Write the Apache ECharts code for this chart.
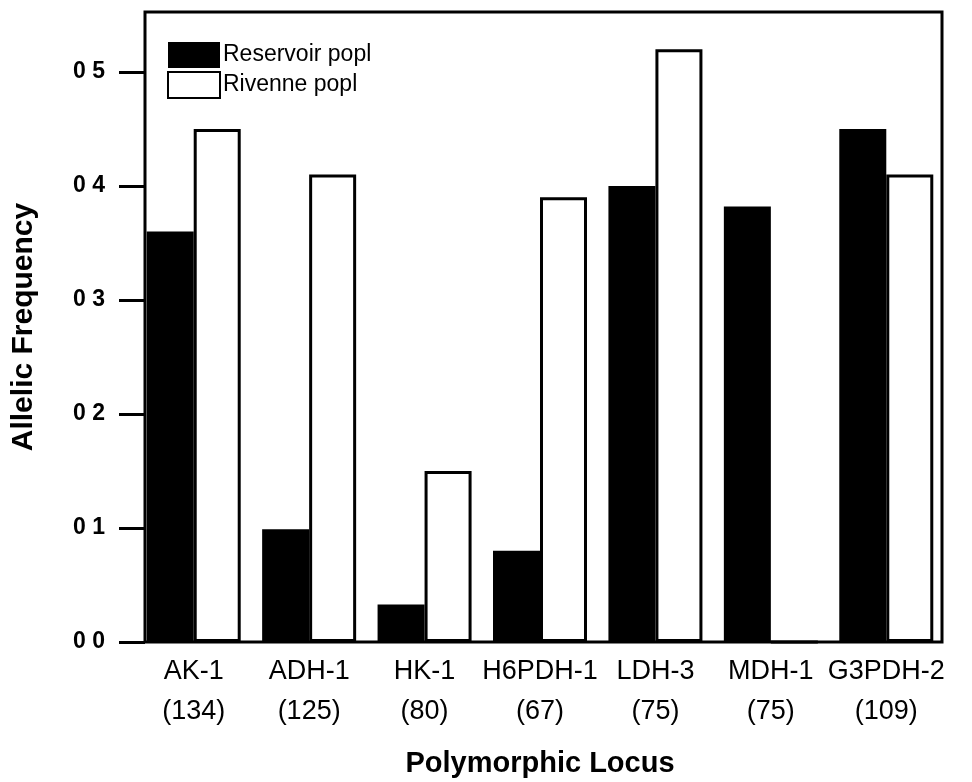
<!DOCTYPE html>
<html>
<head>
<meta charset="utf-8">
<script src="https://cdn.jsdelivr.net/npm/echarts@6/dist/echarts.min.js"></script>
<style>
html,body{margin:0;padding:0;background:#fff;}
#chart{width:972px;height:782px;}
</style>
</head>
<body>
<div id="chart"></div>
<script>
var categories = ['AK-1', 'ADH-1', 'HK-1', 'H6PDH-1', 'LDH-3', 'MDH-1', 'G3PDH-2'];
var sampleSizes = [134, 125, 80, 67, 75, 75, 109];
var reservoir = [0.36, 0.099, 0.033, 0.08, 0.40, 0.382, 0.45];
var rivenne = [0.45, 0.41, 0.15, 0.39, 0.52, 0, 0.41];
var yTicks = [0, 0.1, 0.2, 0.3, 0.4, 0.5];
var yTickLabels = ['0 0', '0 1', '0 2', '0 3', '0 4', '0 5'];
var yMax = 0.5526;

var FONT = "'Liberation Sans', Arial, sans-serif";
var chart = echarts.init(document.getElementById('chart'), null, {renderer: 'canvas'});

var option = {
  backgroundColor: '#ffffff',
  animation: false,
  textStyle: {fontFamily: FONT, color: '#000'},
  legend: {
    left: 162, top: 37, orient: 'vertical',
    itemWidth: 52, itemHeight: 26, itemGap: 3,
    icon: 'rect',
    textStyle: {fontFamily: FONT, fontSize: 23, color: '#000', padding: [0, 0, 0, -2]},
    data: ['Reservoir popl', 'Rivenne popl']
  },
  grid: [
    {left: 145, right: 30, top: 12, bottom: 140, containLabel: false, outerBoundsMode: 'none', show: true, borderColor: '#000', borderWidth: 3, backgroundColor: 'transparent'},
    {left: 136, right: 28, top: 12, bottom: 140, containLabel: false, outerBoundsMode: 'none'}
  ],
  xAxis: [
    {gridIndex: 0, type: 'value', min: 0, max: 1, show: false},
    {
      gridIndex: 1, type: 'category', data: categories, boundaryGap: true,
      axisLine: {show: false}, axisTick: {show: false},
      axisLabel: {
        interval: 0, margin: 10, fontSize: 27, lineHeight: 40, color: '#000', fontFamily: FONT,
        formatter: function (v, i) { return v + '\n(' + sampleSizes[i] + ')'; }
      },
      name: 'Polymorphic Locus', nameLocation: 'middle', nameGap: 107,
      nameTextStyle: {fontSize: 29, fontWeight: 'bold', color: '#000', fontFamily: FONT}
    }
  ],
  yAxis: [
    {
      gridIndex: 0, type: 'value', min: 0, max: yMax, interval: 0.1,
      splitLine: {show: false},
      axisLine: {show: false},
      axisTick: {show: true, inside: false, length: 26, lineStyle: {color: '#000', width: 3}, customValues: yTicks},
      axisLabel: {
        margin: 40, fontSize: 23, fontWeight: 'bold', color: '#000', fontFamily: FONT,
        customValues: yTicks,
        formatter: function (v) {
          for (var i = 0; i < yTicks.length; i++) { if (Math.abs(yTicks[i] - v) < 1e-6) return yTickLabels[i]; }
          return '';
        }
      },
      name: 'Allelic Frequency', nameLocation: 'middle', nameGap: 106, nameRotate: 90,
      nameTextStyle: {fontSize: 30, fontWeight: 'bold', color: '#000', fontFamily: FONT}
    },
    {gridIndex: 1, type: 'value', min: 0, max: yMax, show: false}
  ],
  series: [
    {
      name: 'Reservoir popl', type: 'bar', xAxisIndex: 1, yAxisIndex: 1,
      data: reservoir, barWidth: 47, barGap: '0%',
      itemStyle: {color: '#000', borderColor: '#000', borderWidth: 0}
    },
    {
      name: 'Rivenne popl', type: 'bar', xAxisIndex: 1, yAxisIndex: 1,
      data: rivenne, barWidth: 47, barGap: '0%',
      itemStyle: {color: '#fff', borderColor: '#000', borderWidth: 3}
    }
  ]
};
chart.setOption(option);
</script>
</body>
</html>
